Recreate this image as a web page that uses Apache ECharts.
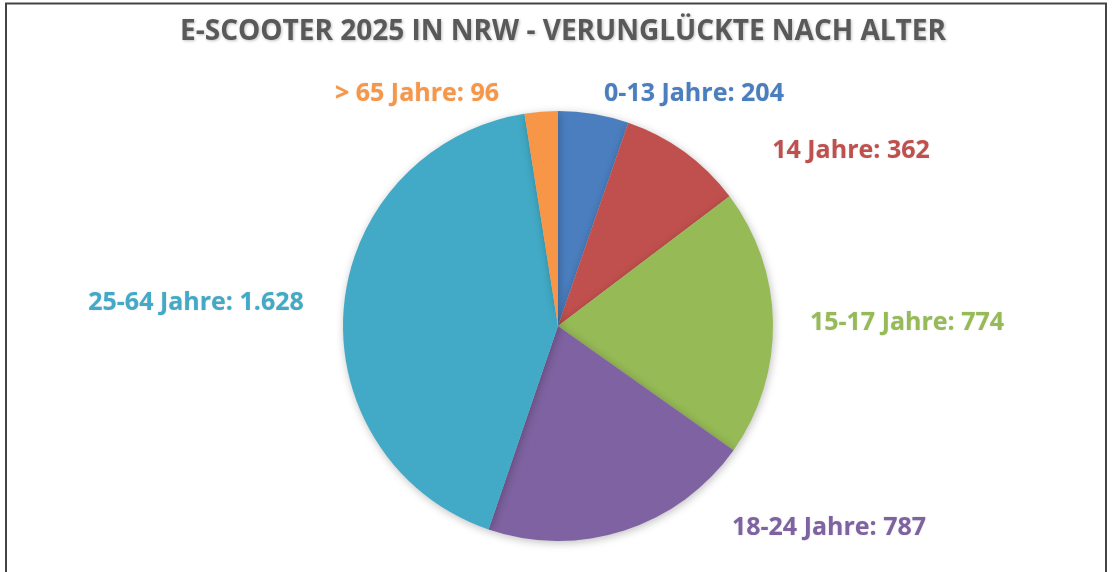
<!DOCTYPE html>
<html>
<head>
<meta charset="utf-8">
<script src="https://cdn.jsdelivr.net/npm/echarts@6/dist/echarts.min.js"></script>
<style>
html,body{margin:0;padding:0;background:#fff;}
#c{width:1112px;height:572px;}
</style>
</head>
<body>
<div id="c"></div>
<script>
const categories = ['0-13 Jahre', '14 Jahre', '15-17 Jahre', '18-24 Jahre', '25-64 Jahre', '> 65 Jahre'];
const values = [204, 362, 774, 787, 1628, 96];
const valueLabels = ['204', '362', '774', '787', '1.628', '96'];
const colors = ['#4A7EBF', '#C0504D', '#96BA56', '#7E62A1', '#42AAC6', '#F79646'];
const titleText = 'E-SCOOTER 2025 IN NRW - VERUNGLÜCKTE NACH ALTER';

// label anchor positions (layout only)
const labelPos = [[694, 94], [851, 151], [907, 323], [829, 528], [196, 303], [417, 94]];

const chart = echarts.init(document.getElementById('c'), null, {renderer: 'canvas'});
chart.setOption({
  backgroundColor: '#fff',
  animation: false,
  title: {
    text: titleText,
    left: 558,
    textAlign: 'center',
    top: 13,
    textStyle: {
      fontFamily: 'Open Sans',
      fontWeight: 'bold',
      fontSize: 28,
      color: '#595959',
      textShadowColor: 'rgba(0,0,0,0.25)',
      textShadowBlur: 3,
      textShadowOffsetX: 1,
      textShadowOffsetY: 1
    }
  },
  graphic: [{
    type: 'polyline',
    shape: {points: [[6, 580], [6, 3.5], [1106, 3.5], [1106, 580]]},
    style: {stroke: '#444', lineWidth: 2, fill: null},
    silent: true
  }],
  series: [{
    type: 'pie',
    center: [558, 326],
    radius: 215,
    startAngle: 90,
    clockwise: true,
    avoidLabelOverlap: false,
    itemStyle: {
      shadowBlur: 8,
      shadowColor: 'rgba(0,0,0,0.25)',
      shadowOffsetX: 1,
      shadowOffsetY: 2
    },
    label: {
      show: true,
      position: 'outside',
      fontFamily: 'Open Sans',
      fontWeight: 'bold',
      fontSize: 25,
      formatter: function (p) { return p.name + ': ' + valueLabels[p.dataIndex]; },
      textShadowColor: 'rgba(0,0,0,0.15)',
      textShadowBlur: 2
    },
    labelLine: {show: false},
    labelLayout: function (p) {
      const pos = labelPos[p.dataIndex];
      return {x: pos[0], y: pos[1], align: 'center', verticalAlign: 'middle'};
    },
    data: categories.map(function (c, i) {
      return {
        name: c,
        value: values[i],
        itemStyle: {color: colors[i]},
        label: {color: colors[i]}
      };
    })
  }]
});
</script>
</body>
</html>
